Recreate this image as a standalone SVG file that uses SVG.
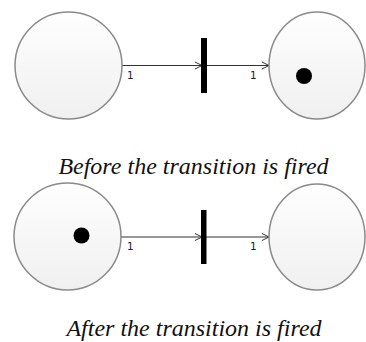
<svg xmlns="http://www.w3.org/2000/svg" width="366" height="342" viewBox="0 0 366 342">
<defs>
<linearGradient id="g" x1="0" y1="0" x2="0" y2="1">
<stop offset="0" stop-color="#fefefe"/>
<stop offset="1" stop-color="#f0f0f0"/>
</linearGradient>
<marker id="arr" viewBox="0 0 10 10" refX="9" refY="5" markerWidth="9" markerHeight="9" markerUnits="userSpaceOnUse" orient="auto">
<path d="M1,1 L9,5 L1,9" fill="none" stroke="#333" stroke-width="1.1"/>
</marker>
</defs>
<style>
.place{fill:url(#g);stroke:#8a8a8a;stroke-width:1.5}
.token{fill:#000}
.bar{fill:#000}
.arc{stroke:#333;stroke-width:1.1;fill:none;marker-end:url(#arr)}
.w{font-family:"DejaVu Sans","Liberation Sans",sans-serif;font-size:10.5px;fill:#222}
.cap{font-family:"Liberation Serif",serif;font-style:italic;font-size:24px;fill:#111;text-anchor:middle}
</style>
<g id="connectors">
<line class="arc" x1="122" y1="65.5" x2="202" y2="65.5"/>
<line class="arc" x1="207" y1="65.5" x2="269" y2="65.5"/>
<line class="arc" x1="121" y1="237" x2="202" y2="237"/>
<line class="arc" x1="206" y1="237" x2="269" y2="237"/>
<text class="w" x="127" y="79">1</text>
<text class="w" x="250" y="79">1</text>
<text class="w" x="127" y="250">1</text>
<text class="w" x="250" y="250">1</text>
</g>
<g id="p1-before"><circle class="place" cx="68.5" cy="65.5" r="53.5"/></g>
<g id="t-before"><rect class="bar" x="201" y="38" width="6" height="55"/></g>
<g id="p2-before"><ellipse class="place" cx="317" cy="65.5" rx="48" ry="53.5"/><circle class="token" cx="304" cy="76" r="8"/></g>
<g id="p1-after"><circle class="place" cx="67.5" cy="236.5" r="53.5"/><circle class="token" cx="81.5" cy="235.5" r="8"/></g>
<g id="t-after"><rect class="bar" x="201" y="210" width="5.5" height="54"/></g>
<g id="p2-after"><ellipse class="place" cx="317" cy="237" rx="48" ry="53"/></g>
<text class="cap" x="193.5" y="174">Before the transition is fired</text>
<text class="cap" x="194" y="336">After the transition is fired</text>
</svg>
